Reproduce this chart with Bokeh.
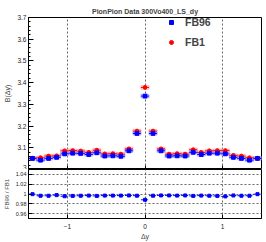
import numpy as np
from bokeh.plotting import figure
from bokeh.layouts import column
from bokeh.models import Legend, LegendItem, FixedTicker, Range1d
from bokeh.embed import file_html
from bokeh.resources import INLINE

# ---- data ----
x_low, x_high, n_bins = -1.5, 1.5, 29
fb96 = [3.051, 3.043, 3.051, 3.056, 3.072, 3.075, 3.074, 3.069, 3.077, 3.062,
        3.063, 3.061, 3.086, 3.166, 3.338, 3.166, 3.086, 3.062, 3.063, 3.062,
        3.079, 3.069, 3.075, 3.075, 3.072, 3.056, 3.051, 3.043, 3.051]
fb1 = [3.052, 3.054, 3.062, 3.063, 3.086, 3.087, 3.085, 3.079, 3.089, 3.072,
       3.073, 3.071, 3.095, 3.177, 3.378, 3.177, 3.095, 3.071, 3.073, 3.071,
       3.091, 3.079, 3.086, 3.087, 3.087, 3.065, 3.062, 3.054, 3.052]
fb96_err = [0.007, 0.007, 0.007, 0.007, 0.007, 0.007, 0.007, 0.007, 0.007, 0.007,
            0.007, 0.007, 0.007, 0.007, 0.008, 0.007, 0.007, 0.007, 0.007, 0.007,
            0.007, 0.007, 0.007, 0.007, 0.007, 0.007, 0.007, 0.007, 0.007]
fb1_err = fb96_err
main_ticks = [3.0, 3.1, 3.2, 3.3, 3.4, 3.5, 3.6, 3.7]
ratio_ticks = [0.96, 0.98, 1.0, 1.02, 1.04]
x_ticks = [-1, 0, 1]
y_low, y_high = 3.0, 3.7
r_low, r_high = 0.95, 1.05

edges = np.linspace(x_low, x_high, n_bins + 1)
xc = 0.5 * (edges[:-1] + edges[1:])
xl, xr = edges[:-1], edges[1:]
b = np.array(fb96); r = np.array(fb1)
be = np.array(fb96_err); re_ = np.array(fb1_err)
ratio = b / r

FONT = "Liberation Sans"
BLUE = "#0000ff"
RED = "#ff0000"
W = 266
LB = 26
RB = 5

def style_axes(p):
    for ax in p.axis:
        ax.axis_line_color = "black"
        ax.major_tick_out = 0
        ax.minor_tick_out = 0
        ax.major_label_text_font = FONT
        ax.axis_label_text_font = FONT
        ax.axis_label_text_font_style = "normal"
        ax.major_label_standoff = 2
        ax.axis_label_standoff = 3
        ax.major_label_text_color = "#222222"
    p.outline_line_color = "black"
    p.outline_line_alpha = 1
    p.background_fill_color = "white"
    p.border_fill_color = "white"

# ---- top panel ----
p1 = figure(width=W, height=169, output_backend="svg", toolbar_location=None,
            x_range=Range1d(x_low, x_high), y_range=Range1d(y_low, y_high),
            min_border_left=LB, min_border_right=RB, min_border_top=17, min_border_bottom=0,
            title="PionPion Data 300Vo400_LS_dy")
p1.title.text_font = FONT
p1.title.text_font_size = "7px"
p1.title.text_font_style = "bold"
p1.title.align = "center"
p1.title.standoff = 5
p1.title.offset = 0

p1.quad(left=xl, right=xr, bottom=r - re_, top=r + re_, fill_color=RED, fill_alpha=0.08,
        line_color="#ff9999", line_width=0.7)
p1.quad(left=xl, right=xr, bottom=b - be, top=b + be, fill_color=BLUE, fill_alpha=0.08,
        line_color="#9999ff", line_width=0.7)
p1.segment(x0=xl, x1=xr, y0=r, y1=r, line_color=RED, line_width=1)
p1.segment(x0=xl, x1=xr, y0=b, y1=b, line_color=BLUE, line_width=1)
rr = p1.scatter(xc, r, marker="circle", size=3.8, fill_color=RED, line_color=RED)
br = p1.scatter(xc, b, marker="square", size=3.8, fill_color=BLUE, line_color=BLUE)

p1.xaxis.ticker = FixedTicker(ticks=x_ticks, minor_ticks=[])
p1.yaxis.ticker = FixedTicker(ticks=main_ticks,
                              minor_ticks=list(np.round(np.arange(3.0, 3.701, 0.02), 3)))
p1.yaxis.axis_label = "B(Δy)"
p1.yaxis.major_label_overrides = {3: "3"}
style_axes(p1)
p1.xaxis.fixed_location = y_low
p1.xaxis.major_label_overrides = {-1: "", 0: "", 1: ""}
p1.xaxis.major_label_text_font_size = "6px"
p1.xaxis.major_tick_in = 4
p1.yaxis.major_label_text_font_size = "6.5px"
p1.yaxis.axis_label_text_font_size = "7px"
p1.yaxis.major_tick_in = 5
p1.yaxis.minor_tick_in = 2
p1.ygrid.visible = False
p1.xgrid.ticker = FixedTicker(ticks=x_ticks)
p1.xgrid.grid_line_color = "#666666"
p1.xgrid.grid_line_dash = "2 2"
p1.xgrid.grid_line_width = 1

legend = Legend(items=[LegendItem(label="FB96", renderers=[br]),
                       LegendItem(label="FB1", renderers=[rr])],
                location=(138, 121))
legend.label_text_font = FONT
legend.label_text_font_style = "bold"
legend.label_text_font_size = "10.5px"
legend.border_line_color = None
legend.background_fill_alpha = 0
legend.padding = 0
legend.margin = 0
legend.spacing = 8
legend.glyph_height = 10
legend.glyph_width = 10
legend.label_height = 10
legend.label_standoff = 9
p1.add_layout(legend)

# ---- ratio panel ----
p2 = figure(width=W, height=73, output_backend="svg", toolbar_location=None,
            x_range=p1.x_range, y_range=Range1d(r_low, r_high),
            min_border_left=LB, min_border_right=RB, min_border_top=0, min_border_bottom=23)
p2.segment(x0=xl, x1=xr, y0=ratio, y1=ratio, line_color=BLUE, line_width=1, line_dash="3 1")
p2.scatter(xc, ratio, marker="square", size=3, fill_color=BLUE, line_color=BLUE)
p2.xaxis.ticker = FixedTicker(ticks=x_ticks, minor_ticks=[])
p2.yaxis.ticker = FixedTicker(ticks=ratio_ticks, minor_ticks=[])
p2.yaxis.major_label_overrides = {1: "1"}
p2.xaxis.axis_label = "Δy"
p2.yaxis.axis_label = "FB96 / FB1"
style_axes(p2)
p2.xaxis.major_label_text_font_size = "6.5px"
p2.xaxis.axis_label_text_font_size = "7px"
p2.xaxis.major_label_standoff = 5
p2.xaxis.axis_label_standoff = 1
p2.xaxis.major_tick_in = 4
p2.yaxis.major_label_text_font_size = "5.5px"
p2.yaxis.axis_label_text_font_size = "6px"
p2.yaxis.major_tick_in = 4
for g in (p2.xgrid, p2.ygrid):
    g.grid_line_color = "#666666"
    g.grid_line_dash = "2 2"
    g.grid_line_width = 1
p2.xgrid.ticker = FixedTicker(ticks=x_ticks)
p2.ygrid.ticker = FixedTicker(ticks=ratio_ticks)

lay = column(p1, p2, spacing=0)
open("out.html", "w").write(file_html(lay, INLINE))
